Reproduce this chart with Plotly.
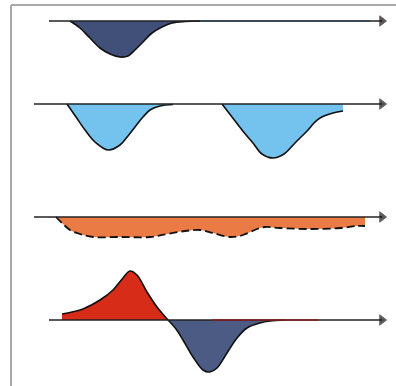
import plotly.graph_objects as go

# ---- data (x position along the time axis, value = signed depth of the curve) ----
# row 1: single dark trough
r1_x = [70, 80, 90, 100, 110, 120, 128, 135, 143, 152, 162, 172, 185, 200]
r1_y = [0, -7, -17, -27, -33, -36, -35, -29, -21, -12, -6, -2, -0.5, 0]

# row 2: two light-blue troughs
r2a_x = [67, 76, 85, 95, 108, 120, 128, 135, 143, 150, 160, 173]
r2a_y = [0, -13, -26, -38, -46, -41, -32, -23, -13, -6, -2, -0.5]
r2b_x = [222, 232, 242, 253, 262, 273, 284, 295, 302, 308, 314, 320, 333, 343]
r2b_y = [0, -13, -26, -39, -50, -54, -50, -39, -32, -26, -19, -14, -9, -7]

# row 3: shallow orange band (dashed edge)
r3_x = [56, 63, 70, 80, 93, 120, 150, 167, 185, 200, 213, 230, 243, 257, 265, 280, 310, 340, 357, 365]
r3_y = [0, -7, -13, -17, -20, -20, -20, -17, -14, -13, -16, -20, -18, -12, -10, -11, -12, -11, -9, -9]

# row 4: red peak then dark trough
r4p_x = [62, 72, 83, 100, 113, 123, 130, 137, 147, 157, 168]
r4p_y = [6, 8, 11, 20, 30, 42, 49, 45, 28, 13, 0]
r4n_x = [168, 176, 183, 193, 203, 210, 217, 227, 237, 247, 260, 270, 285]
r4n_y = [0, -9, -20, -37, -50, -52, -48, -33, -18, -8, -3, -1, 0]

axis_start = [49, 34, 34, 49]
axis_end = 386

# pixel bands: (top, bottom, baseline)
H = 386
bands = [(5, 75, 21), (75, 190, 104), (190, 262, 217), (262, 386, 320)]

fig = go.Figure()

OUT = "#111111"


def area(x, y, row, fill, dash="solid", width=1.6):
    fig.add_trace(go.Scatter(
        x=x, y=y, yaxis="y" if row == 1 else f"y{row}",
        mode="lines", fill="tozeroy", fillcolor=fill,
        line=dict(color=OUT, width=width, dash=dash, shape="spline", smoothing=1.0),
        hoverinfo="skip",
    ))


area(r1_x, r1_y, 1, "#415079")
area(r2a_x, r2a_y, 2, "#73c3ee")
area(r2b_x, r2b_y, 2, "#73c3ee")
area(r3_x, r3_y, 3, "#ea7b45", dash="8px,4px", width=1.8)
area(r4p_x, r4p_y, 4, "#d62c18")
area(r4n_x, r4n_y, 4, "#4c5b83")

# axis lines with arrow heads
for i, xs in enumerate(axis_start):
    row = i + 1
    fig.add_trace(go.Scatter(
        x=[xs, axis_end - 4, axis_end - 4], y=[0, 0, 0],
        yaxis="y" if row == 1 else f"y{row}",
        mode="lines+markers",
        line=dict(color="#222222", width=1.6),
        marker=dict(symbol="triangle-right", size=[0, 0, 9], color="#111111"),
        hoverinfo="skip",
    ))

# tinted stretches of the axes
fig.add_trace(go.Scatter(x=[200, 370], y=[0, 0], yaxis="y", mode="lines",
                         line=dict(color="#2c4656", width=1.6), hoverinfo="skip"))
fig.add_trace(go.Scatter(x=[212, 318], y=[0, 0], yaxis="y4", mode="lines",
                         line=dict(color="#8a1c1c", width=1.7), hoverinfo="skip"))

layout = dict(
    width=396, height=386,
    margin=dict(l=0, r=0, t=0, b=0),
    paper_bgcolor="white", plot_bgcolor="rgba(0,0,0,0)",
    showlegend=False,
    xaxis=dict(range=[0, 396], domain=[0, 1], visible=False, fixedrange=True),
)
for i, (top, bot, base) in enumerate(bands):
    key = "yaxis" if i == 0 else f"yaxis{i + 1}"
    layout[key] = dict(
        domain=[(H - bot) / H, (H - top) / H],
        range=[-(bot - base), base - top],
        visible=False, anchor="x", fixedrange=True,
    )
fig.update_layout(**layout)

# frame (top and left edges)
fig.add_shape(type="line", xref="paper", yref="paper", x0=11 / 396, x1=1,
              y0=(H - 5) / H, y1=(H - 5) / H, line=dict(color="#a9a9a9", width=2))
fig.add_shape(type="line", xref="paper", yref="paper", x0=11 / 396, x1=11 / 396,
              y0=0, y1=(H - 5) / H, line=dict(color="#a9a9a9", width=2))

fig.write_html("out.html", config={"displayModeBar": False},
               post_script="document.body.style.margin='0';document.body.style.overflow='hidden';")
